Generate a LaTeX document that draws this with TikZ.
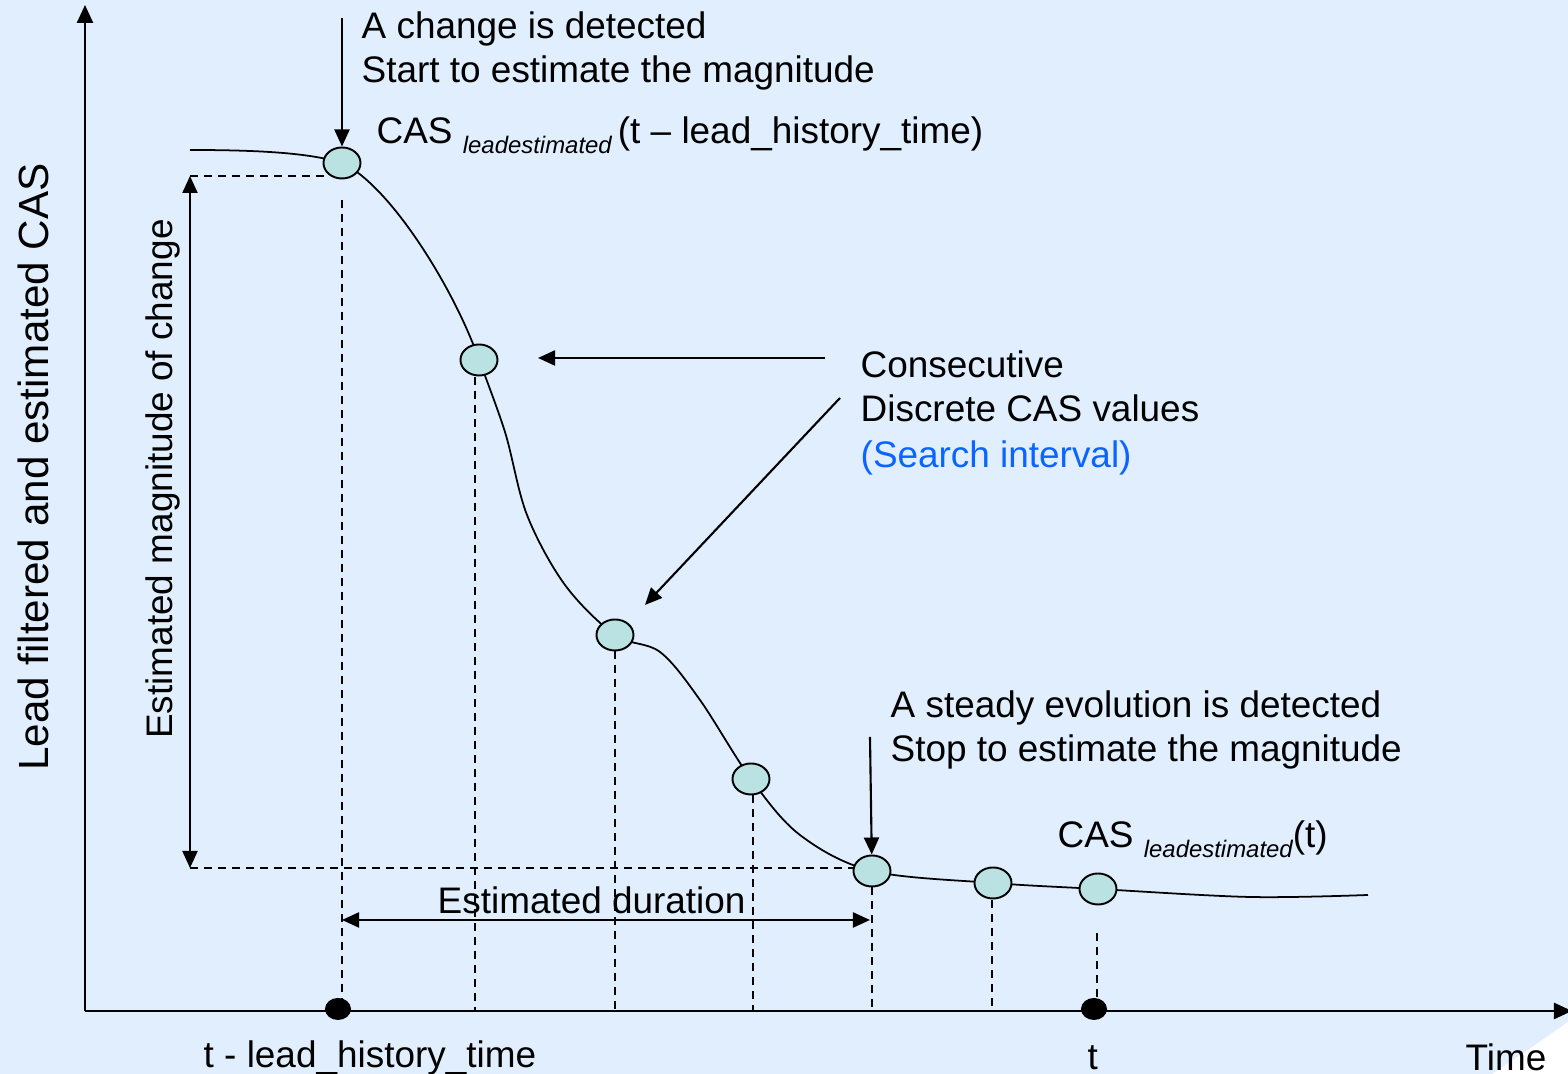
\documentclass[tikz,border=0pt]{standalone}
\usepackage{fontspec}
\setmainfont{Liberation Sans}
\usetikzlibrary{arrows.meta,shapes.geometric}
\definecolor{slidebg}{RGB}{224,238,254}
\definecolor{ptfill}{RGB}{187,226,226}
\definecolor{searchblue}{RGB}{10,100,255}
\newcommand{\subtxt}[1]{\raisebox{-2.8pt}{\fontsize{6.8}{8}\selectfont\itshape #1}}

\begin{document}
\begin{tikzpicture}[x=0.01cm,y=-0.01cm,
			pt/.style={draw,ellipse,fill=ptfill,line width=0.55pt,minimum width=0.37cm,minimum height=0.31cm,inner sep=0},
			dot/.style={fill=black,ellipse,minimum width=0.26cm,minimum height=0.22cm,inner sep=0},
			guide/.style={line width=0.45pt,dash pattern=on 0.08cm off 0.06cm},
			arr/.style={line width=0.6pt,-{Triangle[length=0.17cm,width=0.15cm]}},
			darr/.style={line width=0.6pt,{Triangle[length=0.17cm,width=0.15cm]}-{Triangle[length=0.17cm,width=0.15cm]}},
			txt/.style={anchor=base west,inner sep=0,font=\fontsize{10.5}{12.6}\selectfont}]
			\useasboundingbox (0,0) rectangle (1568,1074);
			\fill[slidebg] (0,0) rectangle (1568,1074);
			\fill[white] (1492,1074) .. controls (1525,1052) .. (1568,1022) -- (1568,1074) -- cycle;

			% axes
			\coordinate (origin) at (85,1011);
			\coordinate (ytop) at (85,5);
			\coordinate (xend) at (1572,1011);
			\draw[line width=0.7pt,-{Triangle[length=0.18cm,width=0.16cm]}] (origin) -- (ytop);
			\draw[line width=0.7pt,-{Triangle[length=0.18cm,width=0.16cm]}] (origin) -- (xend);
			\node[rotate=90,font=\fontsize{12}{14}\selectfont] (ylab) at (33,467) {Lead filtered and estimated CAS};
			\node[txt] (xlab) at (1465,1071) {Time};

			% sample positions on the curve
			\coordinate (c1) at (342,163);
			\coordinate (c2) at (479,360);
			\coordinate (c3) at (615,635);
			\coordinate (c4) at (751,779);
			\coordinate (c5) at (872,871);
			\coordinate (c6) at (993,883);
			\coordinate (c7) at (1098,889);

			% guides
			\draw[guide] (190,176) -- (326,176);
			\draw[guide] (190,868) -- (855,868);
			\draw[guide] (342,200) -- (342,1000);
			\draw[guide] (475,377) -- (475,1011);
			\draw[guide] (615,651) -- (615,1011);
			\draw[guide] (753,795) -- (753,1011);
			\draw[guide] (872,887) -- (872,1011);
			\draw[guide] (992,900) -- (992,1011);
			\draw[guide] (1097,933) -- (1097,1000);

			% the curve
			\draw[line width=0.5pt] (190,150) .. controls (260,150) and (310,153) .. (c1) .. controls (390,185) and (455,290) .. (c2);
			\draw[line width=0.5pt] plot[smooth,tension=0.55] coordinates {(c2) (505,432) (527,515) (565,585) (c3) (660,652) (700,700) (c4) (800,835) (c5) (c6) (c7) (1250,897) (1368,895)};

			\node[pt] (p1) at (c1) {};
			\node[pt] (p2) at (c2) {};
			\node[pt] (p3) at (c3) {};
			\node[pt] (p4) at (c4) {};
			\node[pt] (p5) at (c5) {};
			\node[pt] (p6) at (c6) {};
			\node[pt] (p7) at (c7) {};
			\node[dot] (tstart) at (338,1009) {};
			\node[dot] (tnow) at (1094,1009) {};

			% magnitude and duration
			\draw[darr] (190,176) -- (190,868);
			\node[rotate=90,font=\fontsize{10.5}{12.6}\selectfont] (maglab) at (163,479) {Estimated magnitude of change};
			\draw[darr] (342,920) -- (870,920);
			\node[txt] (durlab) at (437,914) {Estimated duration};

			% texts
			\node[txt] (chg1) at (361,39) {A change is detected};
			\node[txt] (chg2) at (361,83) {Start to estimate the magnitude};
			\node[txt] (casold) at (376,144) {CAS \subtxt{leadestimated}\,(t -- lead\_history\_time)};
			\node[txt] (cons1) at (860,378) {Consecutive};
			\node[txt] (cons2) at (860,422) {Discrete CAS values};
			\node[txt,text=searchblue] (cons3) at (860,468) {(Search interval)};
			\node[txt] (std1) at (890,718) {A steady evolution is detected};
			\node[txt] (std2) at (890,762) {Stop to estimate the magnitude};
			\node[txt] (casnow) at (1057,848) {CAS \subtxt{leadestimated}(t)};
			\node[txt] (tstartlab) at (203,1068) {t - lead\_history\_time};
			\node[txt] (tnowlab) at (1087,1070) {t};

			% pointers
			\coordinate (chgtail) at (342,18);
			\coordinate (constail) at (825,358);
			\coordinate (conshead) at (538,358);
			\coordinate (diagtail) at (840,398);
			\coordinate (diaghead) at (645,605);
			\coordinate (stdtail) at (870,737);
			\draw[arr] (chgtail) -- (p1);
			\draw[arr] (constail) -- (conshead);
			\draw[arr] (diagtail) -- (diaghead);
			\draw[arr] (stdtail) -- (p5);
		\end{tikzpicture}
\end{document}
